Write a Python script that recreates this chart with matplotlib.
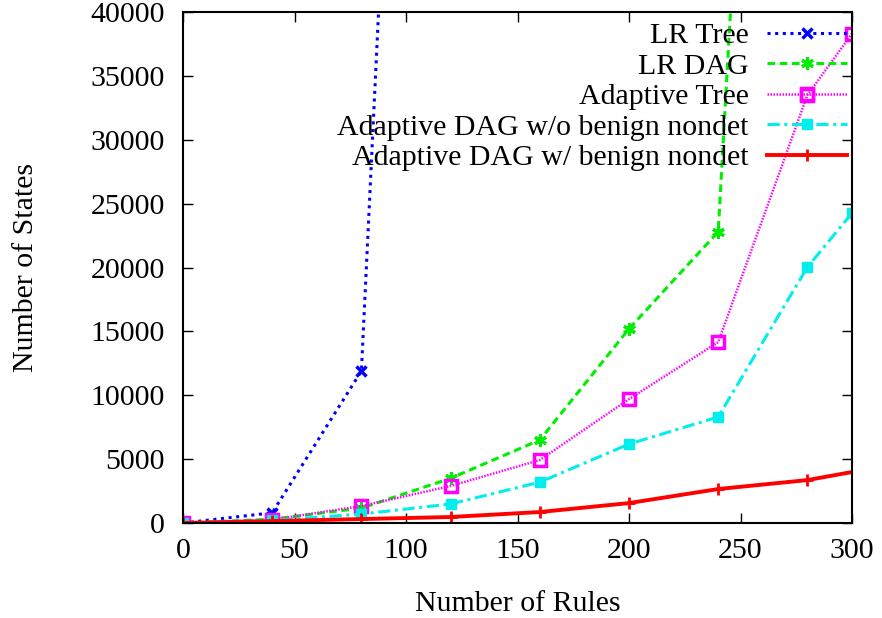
import matplotlib
matplotlib.use("Agg")
from matplotlib import pyplot as plt

plt.rcParams['font.family'] = ['Liberation Serif', 'DejaVu Serif']
plt.rcParams['font.size'] = 21.5

rules = [0, 40, 80, 120, 160, 200, 240, 280, 300]

lr_tree = [0, 800, 11900, 158000]
lr_dag = [0, 300, 1170, 3500, 6500, 15200, 22800, 148000]
ad_tree = [0, 250, 1330, 2900, 4930, 9700, 14160, 33500, 38300]
ad_dag_wo = [0, 200, 700, 1490, 3200, 6180, 8300, 20030, 24260]
ad_dag_w = [0, 150, 310, 470, 860, 1560, 2660, 3360, 3990]

fig = plt.figure(figsize=(8.82, 6.18), dpi=100)
ax = fig.add_axes([0.2075, 0.1537, 0.7585, 0.8269])

ax.plot(rules[:len(lr_tree)], lr_tree, color='#0000ff', ls=(0, (1, 1.5)), lw=2.2,
        marker='x', ms=7, mew=2.5, label='LR Tree')
ax.plot(rules[:len(lr_dag)], lr_dag, color='#00ee00', ls=(0, (2.5, 1.5)), lw=2.2,
        marker=(6, 2, 0), ms=9, mew=2.2, label='LR DAG')
ax.plot(rules, ad_tree, color='#ff00ff', ls=(0, (0.6, 0.6)), lw=1.8,
        marker='s', ms=8.5, mfc='none', mew=2.5, label='Adaptive Tree')
ax.plot(rules, ad_dag_wo, color='#00eeee', ls=(0, (4, 1.5, 1, 1.5)), lw=2.2,
        marker='s', ms=7, label='Adaptive DAG w/o benign nondet')
ax.plot(rules, ad_dag_w, color='#ff0000', ls='-', lw=2.8,
        marker='+', ms=9, mew=2, label='Adaptive DAG w/ benign nondet')

ax.set_xlim(0, 300)
ax.set_ylim(0, 40000)
ax.set_xticks(range(0, 301, 50))
ax.set_yticks(range(0, 40001, 5000))
ax.tick_params(direction='in', top=True, right=True, length=7, width=1)
ax.tick_params(axis='x', pad=11)
ax.tick_params(axis='y', pad=13)
for s in ax.spines.values():
    s.set_linewidth(1.5)

ax.set_xlabel('Number of Rules', labelpad=19)
ax.set_ylabel('Number of States', labelpad=37)

ax.legend(loc='upper right', bbox_to_anchor=(1, 0.99), frameon=False,
          markerfirst=False, handlelength=2.67, labelspacing=0.12,
          borderaxespad=0, borderpad=0.17, handletextpad=0.63, fontsize=21.5)

plt.savefig("out.png", dpi=100)
